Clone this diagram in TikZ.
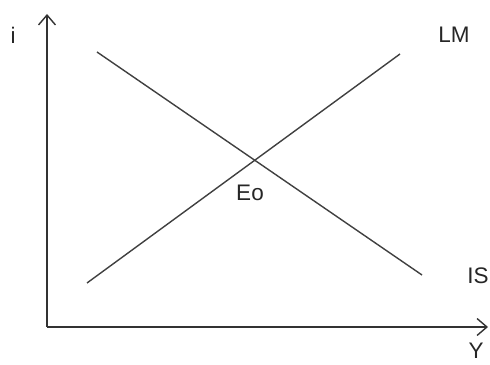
\documentclass[tikz,border=0pt]{standalone}
\usepackage{fontspec}
\setmainfont{Liberation Sans}
\usepackage{tikz}
\usetikzlibrary{arrows.meta, positioning, calc}

\begin{document}
\begin{tikzpicture}[
  axis/.style  = {line width=1pt, black!80, -{Straight Barb[length=7pt, width=12pt, line width=1pt]}},
  curve/.style = {line width=1pt, black!75},
  lbl/.style   = {font=\fontsize{16}{18}\selectfont, text=black!85, inner sep=0pt},
]
\useasboundingbox (-1.175,-0.925) rectangle (11.075,8.175);

% ── Axes ──────────────────────────────────────────────────────────────────────
\coordinate (orig)  at (0,0);
\coordinate (itop)  at (0,7.825);
\coordinate (yend)  at (11.025,0);
\draw[axis] (orig) -- (itop);
\draw[axis] (orig) -- (yend);

% ── IS and LM lines ───────────────────────────────────────────────────────────
\coordinate (is1) at (1.25,6.875);
\coordinate (is2) at (9.375,1.3);
\coordinate (lm1) at (1.0,1.1);
\coordinate (lm2) at (8.825,6.825);
\draw[curve] (is1) -- (is2);
\draw[curve] (lm1) -- (lm2);

% ── Labels ────────────────────────────────────────────────────────────────────
\node[lbl] (ilab)  at (-0.85,7.3)   {i};
\node[lbl] (ylab)  at (10.725,-0.6) {Y};
\node[lbl] (lmlab) at (10.175,7.3)  {LM};
\node[lbl] (islab) at (10.775,1.275){IS};
\node[lbl] (eqlab) at (5.075,3.35)  {Eo};

\end{tikzpicture}
\end{document}
